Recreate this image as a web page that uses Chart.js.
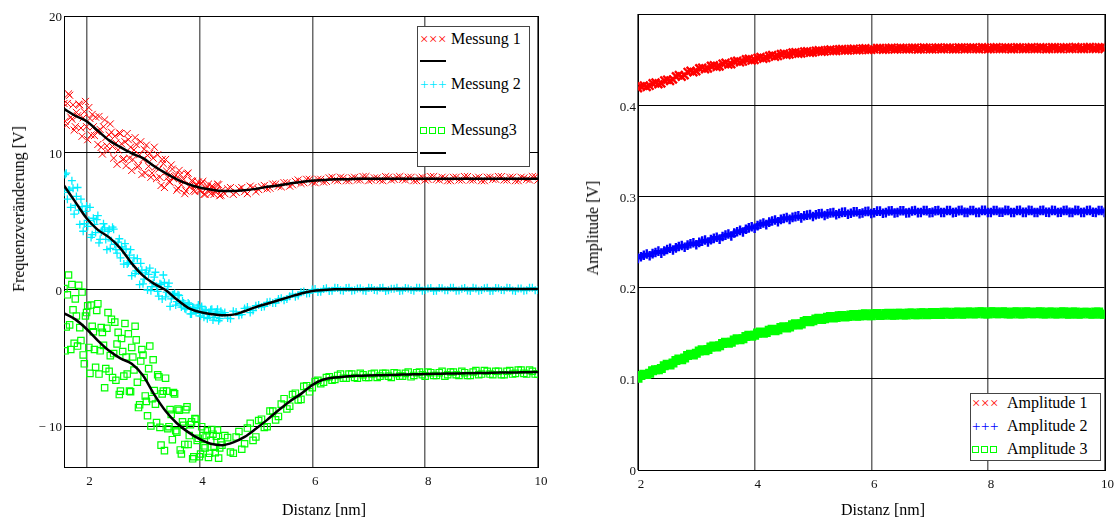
<!DOCTYPE html>
<html><head><meta charset="utf-8">
<script src="https://cdn.jsdelivr.net/npm/chart.js@4.4.1/dist/chart.umd.min.js"></script>
<style>
html,body{margin:0;padding:0;background:#fff;}
#wrap{position:relative;width:1118px;height:522px;overflow:hidden;font-family:'Liberation Serif','Times New Roman',serif;color:#000;}
canvas{position:absolute;top:0;}
#c1{left:0;}
#c2{left:560px;}
.t{position:absolute;font-size:16px;line-height:1;white-space:nowrap;transform:translate(-50%,-50%);}
.tv{transform:translate(-50%,-50%) rotate(-90deg);}
.lg{position:absolute;border:1px solid #444;background:#fff;box-sizing:border-box;}
.row{position:absolute;left:0;right:0;height:20px;line-height:20px;white-space:nowrap;}
.mk{position:absolute;left:2px;top:0;font-size:15px;letter-spacing:0.5px;}
.lt{position:absolute;left:33px;top:0;font-size:16px;}
.ln{position:absolute;left:2px;width:26px;height:2px;background:#000;}
.sq{display:inline-block;width:5px;height:5px;border:1px solid #00ff00;margin-right:2px;vertical-align:middle;position:relative;top:-1px;}
</style></head>
<body>
<div id="wrap">
<canvas id="c1" width="560" height="522"></canvas>
<canvas id="c2" width="558" height="522"></canvas>
<div class="t tv" style="left:19px;top:209px">Frequenzveränderung [V]</div>
<div class="t" style="left:324px;top:510px">Distanz [nm]</div>
<div class="t tv" style="left:593px;top:228px">Amplitude [V]</div>
<div class="t" style="left:883px;top:510px">Distanz [nm]</div>
<div class="lg" style="left:417px;top:26px;width:113px;height:141px">
  <div class="row" style="top:2px"><span class="mk" style="color:#ff0000">×××</span><span class="lt">Messung 1</span></div>
  <div class="ln" style="top:33px"></div>
  <div class="row" style="top:47px"><span class="mk" style="color:#00e8ff">+++</span><span class="lt">Messung 2</span></div>
  <div class="ln" style="top:79px"></div>
  <div class="row" style="top:93px"><span class="mk"><span class="sq"></span><span class="sq"></span><span class="sq"></span></span><span class="lt">Messung3</span></div>
  <div class="ln" style="top:125px"></div>
</div>
<div class="lg" style="left:970px;top:393px;width:131px;height:68px">
  <div class="row" style="top:-1px"><span class="mk" style="left:1px;color:#ff0000">×××</span><span class="lt" style="left:36px">Amplitude 1</span></div>
  <div class="row" style="top:22px"><span class="mk" style="left:1px;color:#0000ff">+++</span><span class="lt" style="left:36px">Amplitude 2</span></div>
  <div class="row" style="top:45px"><span class="mk" style="left:1px"><span class="sq"></span><span class="sq"></span><span class="sq"></span></span><span class="lt" style="left:36px">Amplitude 3</span></div>
</div>
</div>
<script>
// ---------- left chart data (two interleaved sample sets) ----------
const dist = [1.6,1.64,1.68,1.72,1.76,1.8,1.84,1.88,1.92,1.96,2.0,2.04,2.08,2.12,2.16,2.2,2.24,2.28,2.32,2.36,2.4,2.44,2.48,2.52,2.56,2.6,2.64,2.68,2.72,2.76,2.8,2.84,2.88,2.92,2.96,3.0,3.04,3.08,3.12,3.16,3.2,3.24,3.28,3.32,3.36,3.4,3.44,3.48,3.52,3.56,3.6,3.64,3.68,3.72,3.76,3.8,3.84,3.88,3.92,3.96,4.0,4.04,4.08,4.12,4.16,4.2,4.24,4.28,4.32,4.36,4.4,
4.5,4.6,4.7,4.8,4.9,5.0,5.1,5.2,5.3,5.4,5.5,5.6,5.7,5.8,5.9,6.0,6.1,6.2,6.3,6.4,6.5,6.6,6.7,6.8,6.9,7.0,7.1,7.2,7.3,7.4,7.5,7.6,7.7,7.8,7.9,8.0,8.1,8.2,8.3,8.4,8.5,8.6,8.7,8.8,8.9,9.0,9.1,9.2,9.3,9.4,9.5,9.6,9.7,9.8,9.9,10.0];
const messung1 = [13.6,12.0,14.3,12.6,13.5,11.9,12.7,13.5,11.2,13.0,
11.9,13.3,11.3,11.9,12.6,10.6,11.7,9.9,12.4,10.5,
11.3,11.5,9.6,10.7,10.2,11.4,9.5,10.8,11.4,9.6,
8.7,10.2,10.6,9.05,10.8,9.5,8.5,9.8,9.95,8.5,
10.4,8.1,8.8,7.6,9.2,9.5,8.2,7.85,8.8,8.25,
7.25,8.7,7.65,8.05,7.2,8.5,7.6,7.9,7.15,7.65,
7.25,7.75,6.95,7.35,7.7,7.0,7.5,7.15,7.7,6.85,
7.25,
7.35,6.95,7.35,7.15,7.55,7.15,
7.5,7.35,7.7,7.55,7.8,7.55,7.9,7.75,8.05,7.85,
8.05,7.85,8.15,8.0,8.2,7.95,8.15,8.0,8.25,7.95,
8.15,8.0,8.25,8.0,8.2,8.05,8.2,7.95,8.15,8.0,
8.25,8.05,8.2,7.95,8.2,8.0,8.25,8.0,8.15,7.95,
8.2,8.05,8.25,8.0,8.2,7.95,8.2,8.05,8.25,8.0];
const messung2 = [7.1,8.5,7.25,6.0,7.4,6.15,7.45,4.75,6.05,4.8,
6.1,5.05,3.8,5.2,4.15,5.4,3.65,4.35,4.5,2.9,
4.4,3.55,4.4,2.9,3.45,2.3,2.9,3.35,1.85,2.5,
1.0,2.3,1.35,1.35,1.9,0.4,1.2,-0.05,1.55,0.2,
0.9,0.2,-0.5,0.35,1.05,-0.55,0.2,-1.25,-0.4,-0.3,
-0.9,-0.45,-1.3,-1.0,-1.45,-1.0,-1.8,-1.3,-1.55,-1.35,
-1.75,-1.25,-2.05,-1.55,-1.8,-1.5,-2.25,-1.75,-1.45,-2.15,
-1.75,
-2.1,-1.6,-1.9,-1.4,-1.7,-1.2,
-1.3,-0.95,-1.0,-0.7,-0.8,-0.5,-0.55,-0.2,-0.3,-0.02,
-0.2,0.03,-0.12,0.12,-0.06,0.1,-0.1,0.06,-0.08,0.12,
-0.04,0.1,-0.12,0.04,0.12,-0.08,0.06,-0.1,0.12,-0.04,
0.1,-0.1,0.08,-0.06,0.12,-0.08,0.1,-0.12,0.06,-0.04,
0.12,-0.1,0.08,-0.06,0.1,-0.12,0.06,-0.06,0.12,-0.04];
const messung3 = [0.05,-2.75,1.05,-4.4,-1.5,-0.7,-4.15,-2.8,-0.2,-5.45,
-1.7,-4.25,-1.15,-3.1,-5.7,-1.05,-4.5,-3.15,-7.2,-2.85,
-6.0,-2.2,-4.7,-6.65,-3.15,-7.45,-4.55,-2.5,-6.2,-7.45,
-4.25,-5.9,-3.7,-8.65,-5.25,-4.8,-7.8,-9.25,-4.15,-8.0,
-7.4,-9.75,-6.4,-11.4,-7.45,-6.5,-10.2,-8.8,-11.0,-7.65,
-10.45,-8.85,-12.05,-9.95,-8.8,-11.35,-9.9,-12.4,-9.45,-11.05,
-12.25,-10.05,-11.45,-10.7,-12.3,-11.05,-10.6,-11.95,-10.3,-11.6,
-11.4,
-10.85,-12.0,-10.4,-11.3,-9.8,-10.8,
-9.5,-10.05,-8.9,-9.3,-8.0,
-8.55,-7.6,-8.05,-7.05,-7.2,
-6.65,-6.8,-6.4,-6.6,-6.2,-6.5,-6.2,-6.5,-6.25,-6.45,
-6.15,-6.35,-6.15,-6.45,-6.15,-6.35,-6.05,-6.3,-6.05,-6.35,
-6.1,-6.3,-6.0,-6.25,-6.05,-6.3,-6.1,-6.3,-5.95,-6.2,
-6.0,-6.25,-6.0,-6.25,-5.95,-6.15,-5.9,-6.2,-6.0,-6.2];
const dist2 = [1.62,1.66,1.7,1.74,1.78,1.82,1.86,1.9,1.94,1.98,2.02,2.06,2.1,2.14,2.18,2.22,2.26,2.3,2.34,2.38,2.42,2.46,2.5,2.54,2.58,2.62,2.66,2.7,2.74,2.78,2.82,2.86,2.9,2.94,2.98,3.02,3.06,3.1,3.14,3.18,3.22,3.26,3.3,3.34,3.38,3.42,3.46,3.5,3.54,3.58,3.62,3.66,3.7,3.74,3.78,3.82,3.86,3.9,3.94,3.98,4.02,4.06,4.1,4.14,4.18,4.22,4.26,4.3,4.34,4.38,
4.45,4.55,4.65,4.75,4.85,4.95,5.05,5.15,5.25,5.35,5.45,5.55,5.65,5.75,5.85,5.95,6.05,6.15,6.25,6.35,6.45,6.55,6.65,6.75,6.85,6.95,7.05,7.15,7.25,7.35,7.45,7.55,7.65,7.75,7.85,7.95,8.05,8.15,8.25,8.35,8.45,8.55,8.65,8.75,8.85,8.95,9.05,9.15,9.25,9.35,9.45,9.55,9.65,9.75,9.85,9.95];
const messung1b = [12.3,13.6,14.2,12.45,11.65,12.95,13.55,11.8,12.55,13.75,
10.95,12.5,12.8,11.25,11.55,12.65,10.4,11.9,11.1,10.15,
12.1,10.45,11.2,9.15,11.45,10.65,9.55,9.05,10.95,10.4,
9.5,11.1,8.95,9.85,8.4,10.25,10.55,9.0,8.2,9.6,
8.95,9.85,8.2,9.5,7.45,8.65,7.9,9.1,8.1,8.35,
7.4,8.4,7.95,7.0,8.45,7.5,7.95,7.25,7.65,7.85,
7.2,7.9,6.95,7.5,7.2,7.55,6.95,7.3,7.65,6.9,
7.0,7.45,7.1,7.45,7.0,7.45,
7.3,7.6,7.4,7.7,7.5,7.8,7.65,8.0,7.8,8.05,
7.8,8.05,7.9,8.2,7.95,8.15,7.95,8.2,8.0,8.25,
8.0,8.15,7.95,8.2,8.05,8.25,8.0,8.2,7.95,8.2,
8.05,8.25,8.0,8.15,7.95,8.2,8.0,8.25,8.0,8.2,
7.95,8.2,8.05,8.25,8.0,8.2,7.95,8.15,8.0,8.25];
const messung2b = [8.4,6.6,7.25,7.95,5.5,6.8,5.8,6.6,4.25,5.7,
4.6,6.0,4.0,4.75,5.1,3.4,4.2,4.8,3.65,4.25,
3.0,4.55,3.3,2.65,3.7,3.1,1.85,2.95,1.95,2.9,
1.9,1.15,2.25,0.35,1.4,0.75,1.4,1.1,-0.1,0.45,
1.25,-0.15,0.4,-0.7,0.5,-0.2,0.45,-0.7,-0.4,-1.15,
-0.4,-1.05,-0.85,-1.4,-1.25,-1.1,-1.8,-1.35,-1.7,-1.15,
-1.95,-1.6,-1.5,-2.15,-1.8,-1.45,-2.05,-1.65,-2.3,-1.6,
-1.7,-2.15,-1.65,-1.85,-1.3,-1.55,
-1.15,-1.25,-0.9,-1.0,-0.65,-0.7,-0.35,-0.45,-0.15,-0.28,
0.02,-0.17,0.08,-0.11,0.1,-0.1,0.12,-0.06,0.08,-0.12,
0.1,-0.08,0.12,-0.06,0.04,-0.12,0.1,-0.04,0.12,-0.1,
0.06,-0.12,0.1,-0.06,0.12,-0.1,0.04,-0.08,0.12,-0.1,
0.08,-0.12,0.1,-0.04,0.12,-0.08,0.06,-0.1,0.12,-0.06];
const messung3b = [-4.5,-0.4,-2.6,0.35,-3.95,-1.95,0.3,-3.75,-4.8,-1.95,
-1.2,-6.15,-2.7,-4.4,-1.55,-6.2,-2.8,-4.1,-5.8,-1.7,
-4.85,-6.45,-2.4,-4.0,-7.7,-3.6,-6.35,-4.95,-3.25,-7.5,
-4.95,-2.7,-6.8,-8.45,-4.4,-6.45,-8.2,-5.8,-10.0,-5.15,
-8.4,-6.25,-10.1,-7.65,-11.8,-7.45,-10.05,-9.15,-7.55,-10.35,
-8.75,-11.75,-9.7,-11.35,-8.6,-10.7,-9.7,-12.25,-9.5,-10.9,
-12.05,-10.7,-11.6,-10.35,-12.0,-10.25,-11.55,-10.75,-12.35,-11.15,
-10.7,-11.9,-10.8,-11.7,-10.15,-11.05,
-9.6,-10.1,-8.9,-9.55,-8.4,
-8.75,-7.7,-8.1,-7.1,-7.5,
-6.75,-6.9,-6.45,-6.65,-6.3,-6.5,-6.2,-6.45,-6.15,-6.45,
-6.2,-6.45,-6.15,-6.35,-6.1,-6.35,-6.15,-6.4,-6.1,-6.25,
-6.05,-6.3,-6.1,-6.35,-6.05,-6.25,-6.0,-6.3,-6.05,-6.25,
-5.95,-6.2,-6.0,-6.25,-6.0,-6.2,-5.9,-6.15,-5.9,-6.2];
const fitDist = [1.6,1.8,2.0,2.2,2.4,2.6,2.8,3.0,3.2,3.4,3.6,3.8,4.0,4.2,4.4,4.6,4.8,5.0,5.2,5.4,5.6,5.8,6.0,6.2,6.4,6.6,6.8,7.0,7.2,7.4,7.6,7.8,8.0,8.2,8.4,8.6,8.8,9.0,9.2,9.4,9.6,9.8,10.0];
const fit1 = [13.2,12.7,12.3,11.6,10.9,10.4,9.95,9.6,9.0,8.5,8.05,7.7,7.45,7.3,7.2,7.2,7.25,7.35,7.5,7.6,7.75,7.85,7.95,8.0,8.05,8.05,8.1,8.1,8.1,8.1,8.1,8.1,8.1,8.1,8.1,8.1,8.1,8.1,8.1,8.1,8.1,8.1,8.1];
const fit2 = [7.6,6.4,5.2,4.35,3.8,3.0,1.9,1.0,0.4,-0.05,-0.75,-1.35,-1.65,-1.8,-1.9,-1.85,-1.6,-1.3,-1.05,-0.8,-0.55,-0.3,-0.12,-0.05,0,0.01,0.01,0.02,0.02,0.02,0.02,0.02,0.02,0.02,0.02,0.02,0.02,0.02,0.02,0.02,0.02,0.02,0.02];
const fit3 = [-1.75,-2.2,-2.9,-3.75,-4.5,-5.05,-5.45,-6.3,-7.7,-8.9,-9.8,-10.45,-10.95,-11.3,-11.4,-11.2,-10.8,-10.2,-9.55,-8.85,-8.2,-7.65,-7.0,-6.6,-6.45,-6.38,-6.33,-6.3,-6.28,-6.26,-6.24,-6.22,-6.2,-6.18,-6.16,-6.15,-6.14,-6.12,-6.1,-6.09,-6.08,-6.06,-6.05];
const xTicksL = [2,4,6,8,10];
const yTicksL = [-10,0,10,20];
const yTickLabelsL = ['\u2212 10','0','10','20'];

// ---------- right chart data (two interleaved sample sets) ----------
const ampDist = [2.0,2.1,2.2,2.3,2.4,2.5,2.6,2.7,2.8,2.9,3.0,3.1,3.2,3.3,3.4,3.5,3.6,3.7,3.8,3.9,4.0,4.1,4.2,4.3,4.4,4.5,4.6,4.7,4.8,4.9,5.0,5.1,5.2,5.3,5.4,5.5,5.6,5.7,5.8,5.9,6.0,6.1,6.2,6.3,6.4,6.5,6.6,6.7,6.8,6.9,7.0,7.1,7.2,7.3,7.4,7.5,7.6,7.7,7.8,7.9,8.0,8.1,8.2,8.3,8.4,8.5,8.6,8.7,8.8,8.9,9.0,9.1,9.2,9.3,9.4,9.5,9.6,9.7,9.8,9.9,10.0];
const amplitude1 = [0.4185,0.4215,0.4212,0.4248,0.4238,0.4280,0.4282,0.4330,0.4328,0.4378,
0.4372,0.4412,0.4402,0.4438,0.4425,0.4465,0.4450,0.4488,0.4478,0.4510,
0.4495,0.4528,0.4518,0.4550,0.4538,0.4568,0.4555,0.4582,0.4568,0.4592,
0.4578,0.4602,0.4588,0.4610,0.4594,0.4616,0.4600,0.4620,0.4604,0.4624,
0.4607,0.4626,0.4609,0.4628,0.4610,0.4630,0.4612,0.4630,0.4611,0.4632,
0.4612,0.4631,0.4614,0.4633,0.4613,0.4634,0.4614,0.4632,0.4615,0.4635,
0.4613,0.4633,0.4616,0.4634,0.4614,0.4636,0.4615,0.4633,0.4616,0.4635,
0.4614,0.4636,0.4617,0.4634,0.4615,0.4637,0.4616,0.4635,0.4618,0.4636,0.4617];
const amplitude2 = [0.2320,0.2355,0.2350,0.2385,0.2378,0.2418,0.2412,0.2450,0.2442,0.2480,
0.2470,0.2510,0.2500,0.2540,0.2532,0.2575,0.2565,0.2612,0.2610,0.2655,
0.2650,0.2695,0.2690,0.2730,0.2722,0.2758,0.2748,0.2778,0.2765,0.2795,
0.2780,0.2808,0.2790,0.2818,0.2798,0.2825,0.2805,0.2830,0.2810,0.2835,
0.2812,0.2838,0.2815,0.2840,0.2818,0.2842,0.2818,0.2840,0.2822,0.2845,
0.2820,0.2843,0.2823,0.2846,0.2822,0.2844,0.2825,0.2846,0.2823,0.2847,
0.2824,0.2845,0.2826,0.2847,0.2823,0.2846,0.2825,0.2847,0.2824,0.2845,
0.2826,0.2847,0.2824,0.2846,0.2825,0.2847,0.2823,0.2846,0.2826,0.2845,0.2825];
const amplitude3 = [0.1005,0.1050,0.1060,0.1100,0.1112,0.1160,0.1172,0.1218,0.1228,0.1270,
0.1280,0.1318,0.1322,0.1360,0.1362,0.1400,0.1402,0.1438,0.1438,0.1478,
0.1478,0.1512,0.1508,0.1542,0.1538,0.1572,0.1568,0.1605,0.1602,0.1640,
0.1636,0.1665,0.1658,0.1682,0.1672,0.1695,0.1682,0.1705,0.1688,0.1712,
0.1692,0.1715,0.1696,0.1718,0.1698,0.1720,0.1700,0.1722,0.1703,0.1725,
0.1704,0.1728,0.1706,0.1730,0.1708,0.1732,0.1710,0.1733,0.1712,0.1734,
0.1711,0.1735,0.1712,0.1733,0.1711,0.1734,0.1710,0.1733,0.1712,0.1735,
0.1710,0.1732,0.1711,0.1734,0.1709,0.1732,0.1710,0.1731,0.1708,0.1732,0.1709];
const ampDist2 = [2.05,2.15,2.25,2.35,2.45,2.55,2.65,2.75,2.85,2.95,3.05,3.15,3.25,3.35,3.45,3.55,3.65,3.75,3.85,3.95,4.05,4.15,4.25,4.35,4.45,4.55,4.65,4.75,4.85,4.95,5.05,5.15,5.25,5.35,5.45,5.55,5.65,5.75,5.85,5.95,6.05,6.15,6.25,6.35,6.45,6.55,6.65,6.75,6.85,6.95,7.05,7.15,7.25,7.35,7.45,7.55,7.65,7.75,7.85,7.95,8.05,8.15,8.25,8.35,8.45,8.55,8.65,8.75,8.85,8.95,9.05,9.15,9.25,9.35,9.45,9.55,9.65,9.75,9.85,9.95];
const amplitude1b = [0.4208,0.4200,0.4240,0.4230,0.4272,0.4265,0.4318,0.4312,0.4365,0.4362,
0.4405,0.4395,0.4432,0.4420,0.4456,0.4445,0.4480,0.4470,0.4503,0.4490,
0.4520,0.4510,0.4543,0.4532,0.4562,0.4550,0.4577,0.4565,0.4588,0.4576,
0.4598,0.4586,0.4606,0.4594,0.4613,0.4599,0.4617,0.4603,0.4621,0.4606,
0.4612,0.4627,0.4611,0.4629,0.4613,0.4628,0.4612,0.4631,0.4614,0.4630,
0.4613,0.4632,0.4615,0.4631,0.4614,0.4633,0.4616,0.4634,0.4614,0.4632,
0.4615,0.4635,0.4616,0.4633,0.4617,0.4634,0.4615,0.4636,0.4616,0.4634,
0.4617,0.4635,0.4615,0.4636,0.4618,0.4634,0.4617,0.4637,0.4616,0.4635];
const amplitude2b = [0.2338,0.2368,0.2372,0.2400,0.2402,0.2432,0.2436,0.2462,0.2466,0.2492,
0.2496,0.2522,0.2526,0.2552,0.2560,0.2588,0.2598,0.2628,0.2640,0.2668,
0.2680,0.2708,0.2718,0.2742,0.2748,0.2768,0.2770,0.2786,0.2788,0.2800,
0.2798,0.2812,0.2808,0.2822,0.2812,0.2828,0.2815,0.2832,0.2818,0.2836,
0.2820,0.2839,0.2822,0.2842,0.2823,0.2843,0.2822,0.2845,0.2824,0.2844,
0.2825,0.2846,0.2824,0.2845,0.2826,0.2847,0.2824,0.2846,0.2825,0.2847,
0.2823,0.2846,0.2826,0.2845,0.2824,0.2847,0.2825,0.2846,0.2823,0.2847,
0.2825,0.2845,0.2826,0.2847,0.2824,0.2846,0.2825,0.2847,0.2824,0.2846];
const amplitude3b = [0.1035,0.1048,0.1088,0.1098,0.1142,0.1150,0.1200,0.1208,0.1255,0.1262,
0.1305,0.1308,0.1348,0.1350,0.1388,0.1390,0.1425,0.1428,0.1465,0.1466,
0.1502,0.1500,0.1532,0.1528,0.1562,0.1558,0.1592,0.1590,0.1628,0.1625,
0.1655,0.1650,0.1675,0.1668,0.1690,0.1678,0.1700,0.1686,0.1708,0.1690,
0.1712,0.1694,0.1716,0.1697,0.1719,0.1699,0.1721,0.1702,0.1724,0.1703,
0.1726,0.1705,0.1729,0.1707,0.1731,0.1709,0.1732,0.1711,0.1734,0.1710,
0.1734,0.1712,0.1735,0.1711,0.1733,0.1710,0.1734,0.1712,0.1733,0.1711,
0.1733,0.1710,0.1732,0.1711,0.1733,0.1709,0.1731,0.1710,0.1732,0.1708];
const xTicksR = [2,4,6,8,10];
const yTicksR = [0,0.1,0.2,0.3,0.4,0.5];
const yTickLabelsR = ['0','0.1','0.2','0.3','0.4',''];

// ---------- helpers ----------
const pts = (xs, ys) => xs.map((x, i) => ({x: x, y: ys[i]}));
const both = (xa, ya, xb, yb) => pts(xa, ya).concat(pts(xb, yb));
const tickFont = {family: "'Liberation Serif','Times New Roman',serif", size: 13};
const framePlugin = {
  id: 'frame',
  beforeDatasetsDraw(chart) {
    const a = chart.chartArea, ctx = chart.ctx;
    ctx.save();
    ctx.strokeStyle = '#000';
    ctx.lineWidth = 1;
    ctx.strokeRect(Math.round(a.left) + 0.5, Math.round(a.top) + 0.5, Math.round(a.right - a.left), Math.round(a.bottom - a.top));
    ctx.restore();
  }
};
function scales(xMin, xMax, xT, yMin, yMax, yT, yL, yW, xH) {
  return {
    x: {
      type: 'linear', min: xMin, max: xMax,
      afterBuildTicks: s => { s.ticks = xT.map(v => ({value: v})); },
      afterFit: s => { s.height = xH; },
      ticks: {callback: (v, i) => String(xT[i]), font: tickFont, color: '#111', padding: 7, labelOffset: 3, maxRotation: 0, autoSkip: false},
      grid: {color: '#6a6a6a', lineWidth: 1.5, drawTicks: false},
      border: {color: '#000', width: 1}
    },
    y: {
      type: 'linear', min: yMin, max: yMax,
      afterBuildTicks: s => { s.ticks = yT.map(v => ({value: v})); },
      afterFit: s => { s.width = yW; },
      ticks: {callback: (v, i) => yL[i], font: tickFont, color: '#111', padding: 2, labelOffset: 2, autoSkip: false},
      grid: {color: '#000', lineWidth: 1, drawTicks: false},
      border: {color: '#000', width: 1}
    }
  };
}
const common = {
  responsive: false, animation: false, events: [],
  plugins: {legend: {display: false}, tooltip: {enabled: false}, title: {display: false}}
};
const fitStyle = {showLine: true, borderColor: '#000', borderWidth: 2.5, pointRadius: 0, cubicInterpolationMode: 'monotone', fill: false};

new Chart(document.getElementById('c1'), {
  type: 'scatter',
  data: {datasets: [
    Object.assign({data: pts(fitDist, fit1)}, fitStyle),
    Object.assign({data: pts(fitDist, fit2)}, fitStyle),
    Object.assign({data: pts(fitDist, fit3)}, fitStyle),
    {data: both(dist, messung1, dist2, messung1b), pointStyle: 'crossRot', pointRadius: 5, borderColor: '#ff0000', backgroundColor: '#ff0000', borderWidth: 1},
    {data: both(dist, messung2, dist2, messung2b), pointStyle: 'cross', pointRadius: 4, borderColor: '#00eeff', backgroundColor: '#00eeff', borderWidth: 1.3},
    {data: both(dist, messung3, dist2, messung3b), pointStyle: 'rect', pointRadius: 4.5, borderColor: '#00ff00', backgroundColor: 'rgba(0,0,0,0)', borderWidth: 1.2}
  ]},
  options: Object.assign({}, common, {
    layout: {padding: {left: 0, top: 16, right: 22, bottom: 0}},
    scales: scales(1.6, 10, xTicksL, -13, 20, yTicksL, yTickLabelsL, 64, 55)
  }),
  plugins: [framePlugin]
});

new Chart(document.getElementById('c2'), {
  type: 'scatter',
  data: {datasets: [
    {data: both(ampDist, amplitude1, ampDist2, amplitude1b), pointStyle: 'crossRot', pointRadius: 5.5, borderColor: '#ff0000', backgroundColor: '#ff0000', borderWidth: 2.4},
    {data: both(ampDist, amplitude2, ampDist2, amplitude2b), pointStyle: 'cross', pointRadius: 4.8, borderColor: '#0000ff', backgroundColor: '#0000ff', borderWidth: 2.4},
    {data: both(ampDist, amplitude3, ampDist2, amplitude3b), pointStyle: 'rect', pointRadius: 5.3, borderColor: '#00ff00', backgroundColor: '#00ff00', borderWidth: 1.5}
  ]},
  options: Object.assign({}, common, {
    layout: {padding: {left: 0, top: 14, right: 9, bottom: 0}},
    scales: scales(2, 10, xTicksR, 0, 0.5, yTicksR, yTickLabelsR, 78, 52)
  }),
  plugins: [framePlugin]
});
</script>
</body></html>
